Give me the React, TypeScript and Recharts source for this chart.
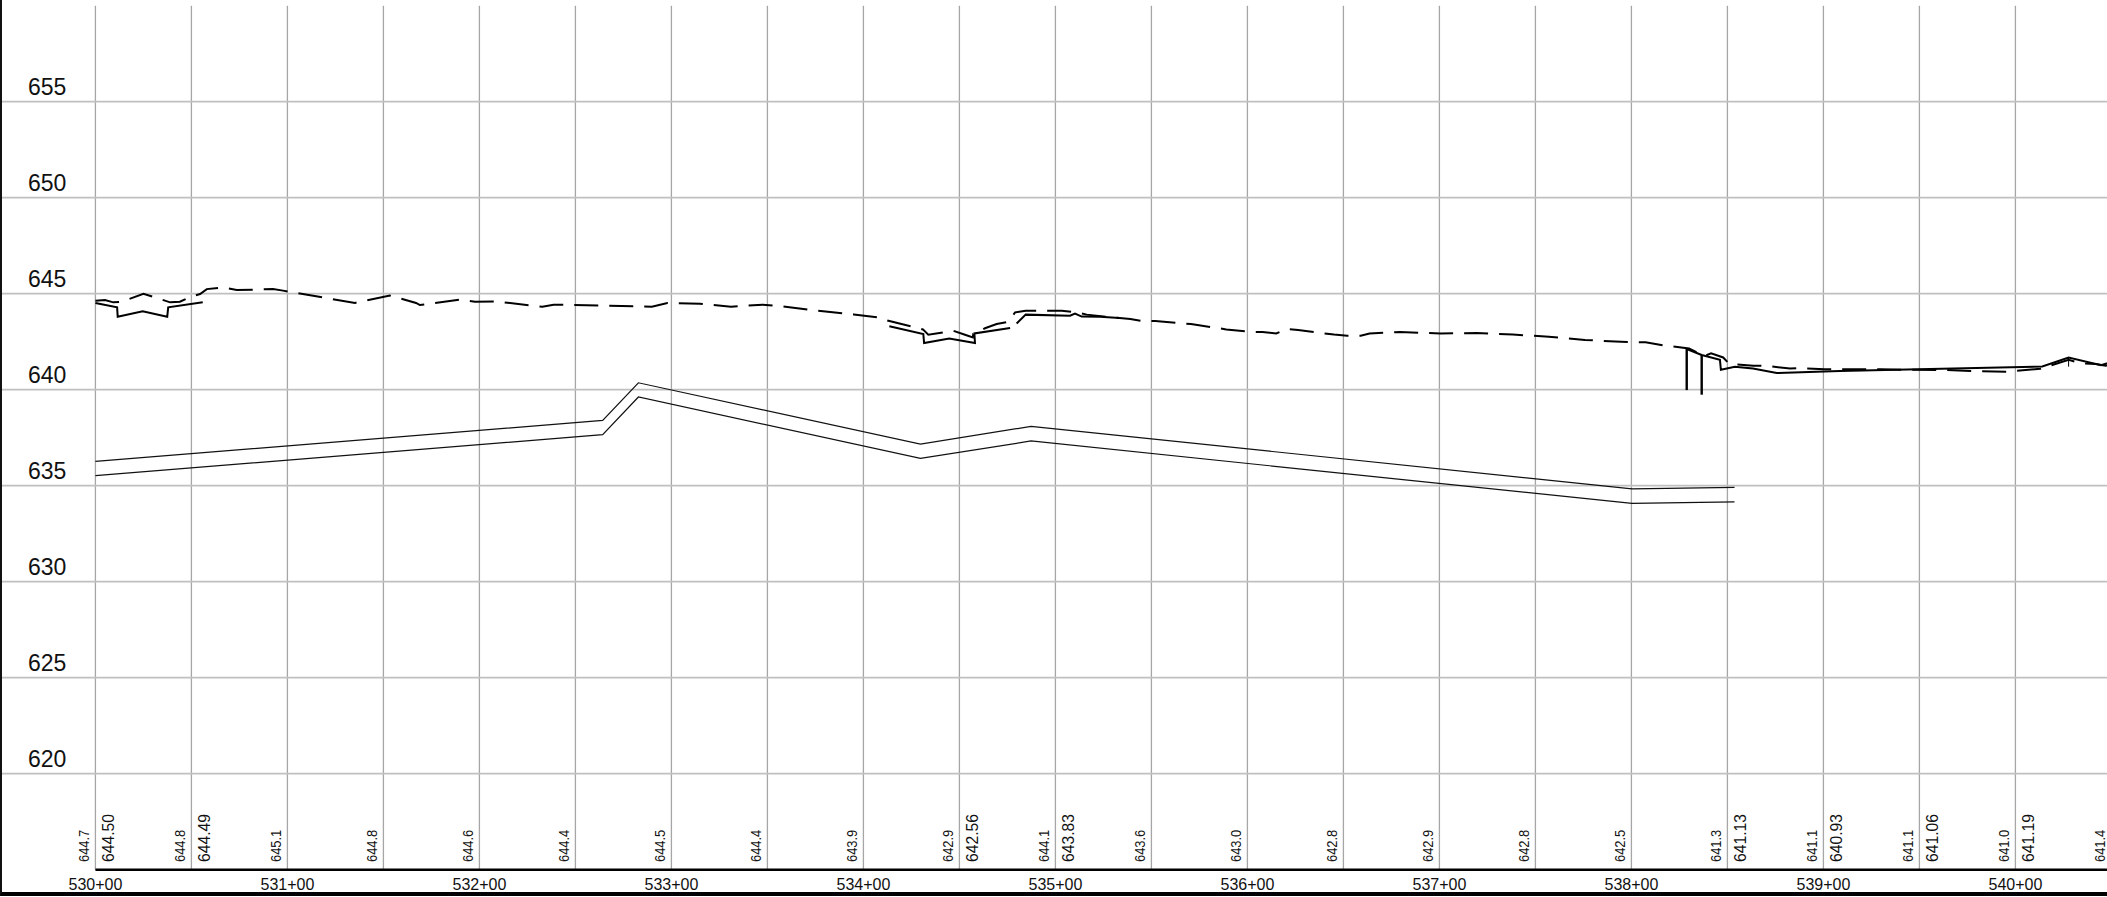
import { ComposedChart, Line, XAxis, YAxis, CartesianGrid, ReferenceLine } from 'recharts';

const FONT = '"Liberation Sans", Arial, sans-serif';

const gridStations = [
  53000, 53050, 53100, 53150, 53200, 53250, 53300, 53350, 53400, 53450, 53500,
  53550, 53600, 53650, 53700, 53750, 53800, 53850, 53900, 53950, 54000, 54050,
];
const stationTicks = [53000, 53100, 53200, 53300, 53400, 53500, 53600, 53700, 53800, 53900, 54000];
const elevationTicks = [620, 625, 630, 635, 640, 645, 650, 655];

const existingLabels = [
  '644.7', '644.8', '645.1', '644.8', '644.6', '644.4', '644.5', '644.4', '643.9', '642.9', '644.1',
  '643.6', '643.0', '642.8', '642.9', '642.8', '642.5', '641.3', '641.1', '641.1', '641.0', '641.4',
];
const proposedStations = [53000, 53050, 53450, 53500, 53850, 53900, 53950, 54000];
const proposedLabels = ['644.50', '644.49', '642.56', '643.83', '641.13', '640.93', '641.06', '641.19'];

const pipeTop: [number, number][] = [
  [53000, 636.27], [53264.2, 638.4], [53282.8, 640.36], [53429.7, 637.17],
  [53487.3, 638.09], [53800.3, 634.83], [53853.7, 634.91],
];
const pipeBottom: [number, number][] = [
  [53000, 635.52], [53264.2, 637.66], [53282.8, 639.62], [53429.7, 636.42],
  [53487.3, 637.33], [53800.3, 634.08], [53853.7, 634.16],
];

const existingGround: [number, number][] = [
  [53000, 644.63], [53005, 644.67], [53009.3, 644.55], [53013.7, 644.58], [53025, 645], [53031.6, 644.79],
  [53038.9, 644.55], [53044, 644.58], [53049.3, 644.83], [53054.5, 644.98], [53058, 645.24], [53066.5, 645.33],
  [53073.6, 645.19], [53092.5, 645.24], [53097.7, 645.16], [53135.2, 644.52], [53153.4, 644.9], [53167, 644.52],
  [53169, 644.41], [53189.9, 644.69], [53197.7, 644.58], [53208.4, 644.6], [53232.8, 644.32], [53238.6, 644.43],
  [53289.8, 644.32], [53297.9, 644.51], [53314.9, 644.48], [53331, 644.32], [53347.5, 644.43], [53358, 644.34],
  [53376.5, 644.11], [53395, 643.92], [53409, 643.75], [53412.5, 643.6], [53431, 643.14], [53433.8, 642.86],
  [53446.8, 643.07], [53452.9, 642.86], [53457, 642.72], [53457.2, 642.9], [53463.3, 643.2], [53469.4, 643.42],
  [53475.5, 643.54], [53479, 644.03], [53484.5, 644.11], [53497, 644.11], [53503.3, 644.11], [53511, 644.03],
  [53516.3, 643.91], [53533.4, 643.73], [53539, 643.68], [53545, 643.58], [53552, 643.58], [53570.6, 643.42],
  [53589, 643.14], [53600.8, 643.02], [53607.9, 643], [53615, 642.93], [53620.6, 643.16], [53626.4, 643.11],
  [53645.1, 642.87], [53652, 642.81], [53659, 642.81], [53663.6, 642.93], [53679.5, 643], [53700.6, 642.93],
  [53719.4, 642.95], [53738.2, 642.87], [53757, 642.76], [53775.8, 642.59], [53794.6, 642.5], [53800, 642.47],
  [53807.4, 642.47], [53818, 642.29], [53830, 642.15], [53838, 641.75], [53841.5, 641.9], [53847.8, 641.68],
  [53851, 641.34], [53863.5, 641.25], [53869.6, 641.24], [53882.6, 641.11], [53887.8, 641.13], [53900.8, 641.06],
  [53930, 641.06], [53943, 641.04], [53963.6, 641.03], [53976.5, 640.98], [53995.3, 640.94], [54013, 641.09],
  [54027.7, 641.56], [54034, 641.37], [54042, 641.34], [54047, 641.25], [54052, 641.3],
];

// proposed ground: pieces split by null elevations
const proposedGround: [number, number | null][] = [
  [53000, 644.52], [53011.3, 644.29], [53011.6, 643.8], [53024.6, 644.08], [53037.4, 643.8], [53037.9, 644.29],
  [53055.9, 644.55], [53056, null],
  [53413.5, 643.3], [53431.2, 642.9], [53431.6, 642.43], [53444.7, 642.67], [53458.1, 642.43], [53457.8, 642.93],
  [53476.4, 643.21], [53478, null],
  [53479.8, 643.45], [53484.5, 643.91], [53507.6, 643.85], [53510.2, 643.97], [53513.7, 643.81], [53523.2, 643.8],
  [53533.4, 643.73], [53534, null],
  [53828.8, 642.12], [53836.6, 641.81], [53846.1, 641.56], [53846.6, 641.04], [53853.9, 641.2], [53863.3, 641.1],
  [53875.7, 640.87], [53908.6, 640.98], [53949.5, 641.06], [54014, 641.21], [54027.7, 641.67], [54044.6, 641.28],
  [54052, 641.5],
];
const spikeOne: [number, number][] = [[53828.8, 642.12], [53828.8, 639.98]];
const spikeTwo: [number, number][] = [[53836.6, 641.81], [53836.6, 639.74]];
const spikeThree: [number, number][] = [[54027.7, 641.67], [54027.7, 641.2]];

const rows = (pts: [number, number | null][]) => pts.map(([x, y]) => ({ x, y }));
const stationLabel = (v: number) => `${Math.floor(v / 100)}+${String(v % 100).padStart(2, '0')}`;

const smallRows = gridStations.map((x, i) => ({ x, y: 615, label: existingLabels[i] }));
const largeRows = proposedStations.map((x, i) => ({ x, y: 615, label: proposedLabels[i] }));

export default function App() {
  return (
    <div style={{ position: 'absolute', left: 0, top: 0, width: 2107, height: 897, overflow: 'hidden', background: '#fff' }}>
      <ComposedChart width={2120} height={897} margin={{ top: 5.7, right: 0, bottom: 0, left: 0 }}>
        <CartesianGrid horizontal={false} verticalValues={gridStations} stroke="#a6a6a6" strokeWidth={1.3} />
        <CartesianGrid vertical={false} horizontalValues={elevationTicks} stroke="#c0c0c0" strokeWidth={1.7} />
        <XAxis
          type="number"
          dataKey="x"
          domain={[52950.3, 54054.47]}
          ticks={stationTicks}
          tickFormatter={stationLabel}
          interval={0}
          height={27.3}
          axisLine={false}
          tickLine={false}
          tick={{ fontSize: 16, fill: '#111', fontFamily: FONT }}
          tickMargin={2.5}
        />
        <YAxis
          type="number"
          domain={[615, 660]}
          ticks={elevationTicks}
          interval={0}
          width={1}
          mirror
          axisLine={false}
          tickLine={false}
          tick={(p: any) => (
            <text key={p.index} x={28} y={p.y - 7} fontSize={23} fill="#111" fontFamily={FONT}>
              {p.payload.value}
            </text>
          )}
        />
        <ReferenceLine segment={[{ x: 53000, y: 615 }, { x: 54054, y: 615 }]} stroke="#000" strokeWidth={2.5} />
        <Line data={rows(pipeTop)} dataKey="y" stroke="#111" strokeWidth={1.2} dot={false} isAnimationActive={false} />
        <Line data={rows(pipeBottom)} dataKey="y" stroke="#111" strokeWidth={1.2} dot={false} isAnimationActive={false} />
        <Line data={rows(existingGround)} dataKey="y" stroke="#000" strokeWidth={2} strokeDasharray="24 11" dot={false} isAnimationActive={false} />
        <Line data={rows(proposedGround)} dataKey="y" stroke="#000" strokeWidth={2} dot={false} isAnimationActive={false} />
        <Line data={rows(spikeOne)} dataKey="y" stroke="#000" strokeWidth={2.4} dot={false} isAnimationActive={false} />
        <Line data={rows(spikeTwo)} dataKey="y" stroke="#000" strokeWidth={2.4} dot={false} isAnimationActive={false} />
        <Line data={rows(spikeThree)} dataKey="y" stroke="#000" strokeWidth={1} dot={false} isAnimationActive={false} />
        <Line
          data={smallRows}
          dataKey="y"
          stroke="none"
          isAnimationActive={false}
          dot={(p: any) => (
            <text
              key={p.index}
              x={p.cx - 6.5}
              y={p.cy - 7.7}
              transform={`rotate(-90 ${p.cx - 6.5} ${p.cy - 7.7})`}
              fontSize={14.8}
              textLength={32.3}
              lengthAdjust="spacingAndGlyphs"
              fill="#111"
              fontFamily={FONT}
            >
              {p.payload.label}
            </text>
          )}
        />
        <Line
          data={largeRows}
          dataKey="y"
          stroke="none"
          isAnimationActive={false}
          dot={(p: any) => (
            <text
              key={p.index}
              x={p.cx + 19}
              y={p.cy - 7.7}
              transform={`rotate(-90 ${p.cx + 19} ${p.cy - 7.7})`}
              fontSize={17}
              textLength={48}
              lengthAdjust="spacingAndGlyphs"
              fill="#111"
              fontFamily={FONT}
            >
              {p.payload.label}
            </text>
          )}
        />
      </ComposedChart>
      <div
        style={{
          position: 'absolute',
          left: 0,
          top: 0,
          width: 2107,
          height: 895.5,
          boxSizing: 'border-box',
          borderLeft: '2px solid #111',
          borderBottom: '4px solid #000',
          pointerEvents: 'none',
        }}
      />
    </div>
  );
}
